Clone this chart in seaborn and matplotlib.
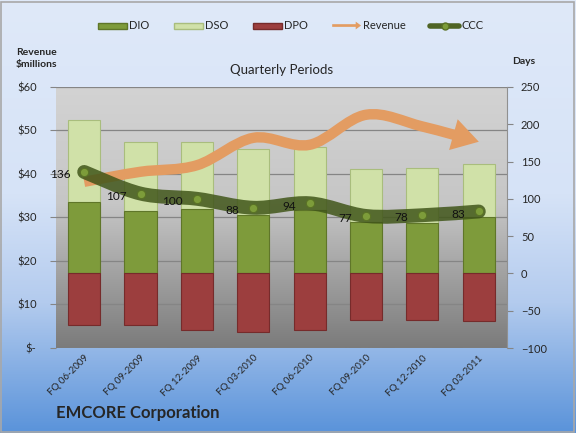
import numpy as np
import seaborn as sns
import matplotlib
matplotlib.use("Agg")
from matplotlib import pyplot as plt
from matplotlib import patches as mpatches
from matplotlib.lines import Line2D
from matplotlib.path import Path
from matplotlib.colors import LinearSegmentedColormap
from matplotlib.legend_handler import HandlerPatch

# quarterly periods
periods = ["FQ 06-2009", "FQ 09-2009", "FQ 12-2009", "FQ 03-2010",
           "FQ 06-2010", "FQ 09-2010", "FQ 12-2010", "FQ 03-2011"]
# days
dio = [96, 83, 86, 78, 85, 69, 68, 76]
dso = [109, 93, 90, 89, 85, 71, 73, 71]
dpo = [69, 69, 76, 79, 76, 63, 63, 64]
ccc = [136, 107, 100, 88, 94, 77, 78, 83]
# revenue, $ millions
revenue = [38.2, 40.5, 42.0, 48.3, 46.7, 53.6, 50.9, 47.4]

rev_ticks = [0, 10, 20, 30, 40, 50, 60]
rev_ticklabels = ["$-", "$10", "$20", "$30", "$40", "$50", "$60"]
day_ticks = [-100, -50, 0, 50, 100, 150, 200, 250]

c_dio, c_dio_e = "#7e9b3b", "#5f7629"
c_dso, c_dso_e = "#d0e1a8", "#a9bd7d"
c_dpo, c_dpo_e = "#9c3e3e", "#762b2b"
c_rev = "#e39c62"
c_ccc = "#41561a"


def smooth_path(xs, ys, end_t=1.0):
    # excel-like smoothed line: bezier segments through the data points
    # end_t < 1 stops the last segment early (room for an arrow head)
    pts = np.column_stack([xs, ys]).astype(float)
    n = len(pts)
    verts, codes = [pts[0]], [Path.MOVETO]
    for i in range(n - 1):
        prev = pts[i - 1] if i > 0 else pts[i]
        nxt = pts[i + 2] if i + 2 < n else pts[i + 1]
        p0, p1 = pts[i], pts[i] + (pts[i + 1] - prev) / 6
        p2, p3 = pts[i + 1] - (nxt - pts[i]) / 6, pts[i + 1]
        if i == n - 2 and end_t < 1.0:
            t = end_t
            a, b, c = p0 + t * (p1 - p0), p1 + t * (p2 - p1), p2 + t * (p3 - p2)
            d, e = a + t * (b - a), b + t * (c - b)
            p1, p2, p3 = a, d, d + t * (e - d)
        verts += [p1, p2, p3]
        codes += [Path.CURVE4] * 3
    return Path(verts, codes)


sns.set_style("white")
plt.rcParams["font.family"] = ["Lato", "DejaVu Sans"]

fig = plt.figure(figsize=(5.76, 4.33), dpi=100)

# figure background gradient
bg = fig.add_axes([0, 0, 1, 1], zorder=0)
cm_fig = LinearSegmentedColormap.from_list(
    "figbg", [(0, "#dfe9f9"), (0.45, "#d6e3f7"), (0.7, "#b3cbee"), (1, "#5a93da")])
bg.imshow(np.linspace(0, 1, 256).reshape(-1, 1), cmap=cm_fig, aspect="auto",
          extent=[0, 1, 0, 1], origin="upper")
bg.add_patch(mpatches.Rectangle((0.002, 0.003), 0.995, 0.993, fill=False,
                                edgecolor="#a8a8a8", lw=1.2, transform=bg.transAxes))
bg.set_xlim(0, 1)
bg.set_ylim(0, 1)
bg.axis("off")

rect = [0.0972, 0.1963, 0.783, 0.603]

# plot area gradient
pbg = fig.add_axes(rect, zorder=0.5)
cm_plot = LinearSegmentedColormap.from_list(
    "plotbg", [(0, "#d3d3d3"), (0.45, "#c6c6c6"), (1, "#7b7b7b")])
pbg.imshow(np.linspace(0, 1, 256).reshape(-1, 1), cmap=cm_plot, aspect="auto",
           extent=[0, 1, 0, 1], origin="upper")
pbg.set_xlim(0, 1)
pbg.set_ylim(0, 1)
pbg.axis("off")

x = np.arange(len(periods))

# revenue axis (left) with gridlines
ax_rev = fig.add_axes(rect, zorder=1)
ax_rev.set_facecolor("none")
ax_rev.set_xlim(-0.5, len(periods) - 0.5)
ax_rev.set_ylim(0, 60)
ax_rev.set_yticks(rev_ticks)
ax_rev.set_yticklabels(rev_ticklabels, fontsize=8)
ax_rev.yaxis.grid(True, color="#858585", lw=0.9)
ax_rev.set_xticks(x)
ax_rev.set_xticklabels(periods, rotation=45, ha="right", rotation_mode="anchor",
                       fontsize=7)
ax_rev.tick_params(axis="x", length=0, pad=4)
ax_rev.tick_params(axis="y", length=4, color="#858585", pad=10, left=True)
for s in ax_rev.spines.values():
    s.set_visible(False)

# days axis (right) with stacked bars
ax_days = fig.add_axes(rect, zorder=2, sharex=ax_rev)
ax_days.set_facecolor("none")
totals = [a + b for a, b in zip(dio, dso)]
sns.barplot(x=x, y=totals, ax=ax_days, color=c_dso, width=0.57, saturation=1,
            edgecolor=c_dso_e, linewidth=0.8, native_scale=True)
sns.barplot(x=x, y=dio, ax=ax_days, color=c_dio, width=0.57, saturation=1,
            edgecolor=c_dio_e, linewidth=0.8, native_scale=True)
sns.barplot(x=x, y=[-v for v in dpo], ax=ax_days, color=c_dpo, width=0.57,
            saturation=1, edgecolor=c_dpo_e, linewidth=0.8, native_scale=True)
ax_days.set_xlim(-0.5, len(periods) - 0.5)
ax_days.set_ylim(-100, 250)
ax_days.set_yticks(day_ticks)
ax_days.yaxis.tick_right()
ax_days.tick_params(axis="y", labelsize=8, length=4, color="#858585", pad=6,
                    right=True, left=False)
ax_days.tick_params(axis="x", bottom=False, labelbottom=False)
ax_days.set_xlabel("")
ax_days.set_ylabel("")
for name, s in ax_days.spines.items():
    s.set_visible(name == "right")
ax_days.spines["right"].set_color("#909090")

# revenue line (smoothed) with arrow head
ax_line = fig.add_axes(rect, zorder=3, sharex=ax_rev)
ax_line.set_facecolor("none")
rev_path = smooth_path(x, revenue, end_t=0.5)
ax_line.add_patch(mpatches.PathPatch(rev_path, fill=False, edgecolor=c_rev, lw=7.5,
                                     capstyle="butt", joinstyle="round"))
ax_line.annotate("", xy=(x[-1], revenue[-1]), xytext=tuple(rev_path.vertices[-1]),
                 arrowprops=dict(arrowstyle="simple,head_width=2.3,head_length=1.9,tail_width=0.75",
                                 mutation_scale=10, color=c_rev, lw=0,
                                 shrinkA=0, shrinkB=0))
ax_line.set_xlim(-0.5, len(periods) - 0.5)
ax_line.set_ylim(0, 60)
ax_line.axis("off")

# CCC line
ax_ccc = fig.add_axes(rect, zorder=4, sharex=ax_rev)
ax_ccc.set_facecolor("none")
ax_ccc.add_patch(mpatches.PathPatch(smooth_path(x, ccc), fill=False,
                                    edgecolor=c_ccc, lw=10, alpha=0.85,
                                    capstyle="round", joinstyle="round"))
sns.scatterplot(x=x, y=ccc, ax=ax_ccc, s=36, color="#7d9c3a", edgecolor="#5a7226",
                linewidth=0.8, zorder=5)
for xi, v in zip(x, ccc):
    ax_ccc.annotate(str(v), (xi, v), xytext=(-10, -2), textcoords="offset points",
                    ha="right", va="center", fontsize=8.5, color="#111111")
ax_ccc.set_xlim(-0.5, len(periods) - 0.5)
ax_ccc.set_ylim(-100, 250)
ax_ccc.axis("off")


class ArrowHandler(HandlerPatch):
    def create_artists(self, legend, orig_handle, xdescent, ydescent, width,
                       height, fontsize, trans):
        a = mpatches.FancyArrow(-xdescent, height / 2 - ydescent, width, 0,
                                width=height * 0.45, head_width=height * 1.3,
                                head_length=height * 0.9, length_includes_head=True,
                                color=c_rev, lw=0)
        a.set_transform(trans)
        return [a]


rev_handle = mpatches.Patch(color=c_rev)
handles = [
    mpatches.Patch(facecolor=c_dio, edgecolor=c_dio_e),
    mpatches.Patch(facecolor=c_dso, edgecolor=c_dso_e),
    mpatches.Patch(facecolor=c_dpo, edgecolor=c_dpo_e),
    rev_handle,
    Line2D([], [], color="#4f6425", lw=4, marker="o", ms=5, mfc="#7d9c3a",
           mec="#5a7226"),
]
leg = fig.legend(handles, ["DIO", "DSO", "DPO", "Revenue", "CCC"], loc="center",
                 bbox_to_anchor=(0.505, 0.94), ncol=5, frameon=False, fontsize=8,
                 handlelength=2.6, handleheight=0.45, handletextpad=0.2,
                 columnspacing=2.2, handler_map={rev_handle: ArrowHandler()})
leg.set_zorder(5)

fig.text(0.488, 0.838, "Quarterly Periods", ha="center", va="center", fontsize=9.5)
fig.text(0.063, 0.865, "Revenue\n$millions", ha="center", va="center",
         fontsize=7.5, fontweight="bold", linespacing=1.3)
fig.text(0.91, 0.857, "Days", ha="center", va="center", fontsize=7.5,
         fontweight="bold")
fig.text(0.097, 0.046, "EMCORE Corporation", ha="left", va="center",
         fontsize=12, fontweight="bold")

fig.savefig("out.png", dpi=100)
